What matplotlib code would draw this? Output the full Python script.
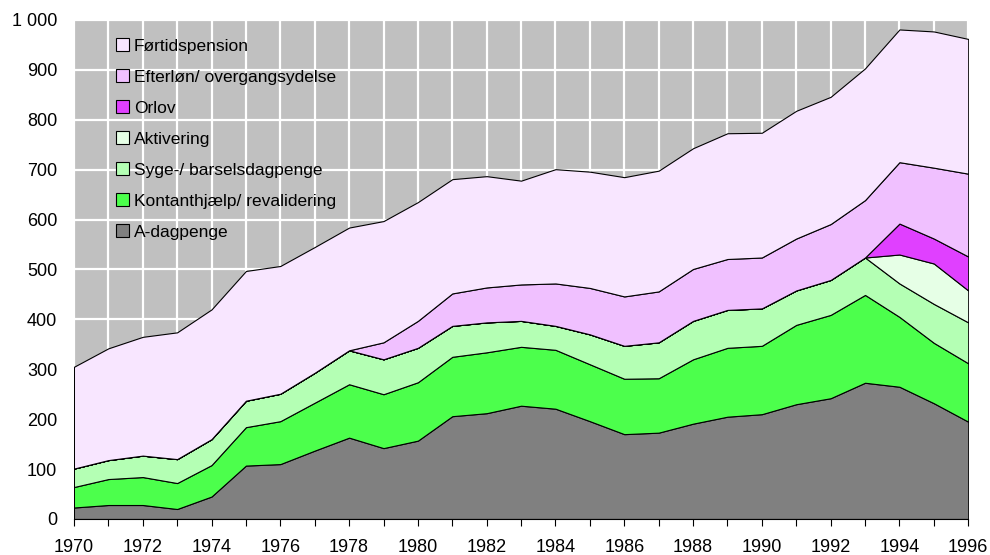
import numpy as np
import matplotlib.pyplot as plt
from matplotlib.patches import Patch

plt.rcParams['font.family'] = ['Liberation Sans', 'DejaVu Sans']

# Data (1000 persons)
aar = list(range(1970, 1997))
a_dagpenge = [23, 28, 28, 20, 45, 107, 110, 137, 163, 142, 157, 206, 212, 227, 221, 196, 170, 173, 191, 205, 210, 230, 242, 273, 265, 232, 195]
kontanthjaelp = [41, 52, 56, 52, 63, 77, 86, 96, 107, 108, 117, 119, 122, 118, 118, 114, 111, 109, 129, 138, 137, 159, 167, 176, 140, 121, 117]
syge = [37, 38, 43, 48, 52, 53, 55, 60, 68, 70, 69, 62, 60, 52, 48, 60, 66, 72, 77, 76, 75, 69, 70, 75, 67, 78, 82]
aktivering = [0] * 24 + [58, 81, 64]
orlov = [0] * 24 + [62, 50, 68]
efterlon = [0, 0, 0, 0, 0, 0, 0, 0, 0, 34, 54, 65, 70, 73, 85, 93, 99, 102, 104, 102, 102, 104, 112, 115, 123, 142, 166]
fortid = [204, 224, 238, 254, 260, 260, 256, 252, 246, 243, 238, 229, 223, 208, 229, 233, 239, 242, 242, 252, 250, 256, 255, 264, 266, 273, 270]

navne = ['A-dagpenge', 'Kontanthjælp/ revalidering', 'Syge-/ barselsdagpenge',
         'Aktivering', 'Orlov', 'Efterløn/ overgangsydelse', 'Førtidspension']
farver = ['#808080', '#4CFF4C', '#B4FFB4', '#E6FFE6', '#E040FF', '#F0C0FF', '#F8E6FF']

fig = plt.figure(figsize=(9.9, 5.55), dpi=100)
ax = fig.add_axes([0.0747, 0.0649, 0.9033, 0.8991])
ax.set_facecolor('#C0C0C0')

ax.stackplot(aar, a_dagpenge, kontanthjaelp, syge, aktivering, orlov, efterlon, fortid,
             colors=farver, edgecolor='black', linewidth=0.8, zorder=2)

ax.set_xlim(1970, 1996)
ax.set_ylim(0, 1000)
ax.set_xticks(aar)
ax.set_xticklabels([str(a) if a % 2 == 0 else '' for a in aar])
ax.set_yticks(range(0, 1001, 100))
ax.set_yticklabels(['1 000' if v == 1000 else str(v) for v in range(0, 1001, 100)])
ax.grid(True, color='white', linewidth=1.6, zorder=0)
ax.set_axisbelow(True)

for s in ['top', 'right', 'left']:
    ax.spines[s].set_visible(False)
ax.spines['bottom'].set_color('black')
ax.spines['bottom'].set_linewidth(0.8)
ax.tick_params(axis='x', direction='out', length=5, width=0.8, pad=9.5, labelsize=13)
ax.tick_params(axis='y', length=0, pad=12, labelsize=13)

handles = [Patch(facecolor=f, edgecolor='black', linewidth=0.8) for f in farver]
ax.legend(handles[::-1], navne[::-1], loc='upper left', bbox_to_anchor=(0.03, 0.995),
          frameon=False, fontsize=12.5, handlelength=0.75, handleheight=0.75,
          handletextpad=0.25, labelspacing=0.9)

fig.savefig('out.png', dpi=100)
